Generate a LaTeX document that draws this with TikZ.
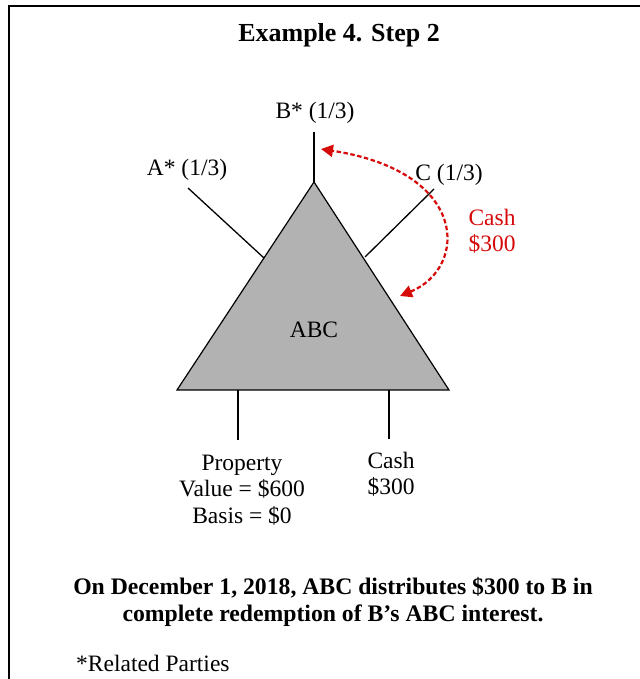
\documentclass[tikz,border=0pt]{standalone}
\usepackage{fontspec}
\setmainfont{Liberation Serif}
\usetikzlibrary{arrows.meta}
\definecolor{tri}{RGB}{178,178,178}
\definecolor{cashred}{RGB}{215,10,10}
\begin{document}
\begin{tikzpicture}[x=1pt,y=-1pt,
  lbl/.style={font=\fontsize{23.5}{26.5}\selectfont, inner sep=0pt, align=center},
  redlbl/.style={lbl, text=cashred},
  bold/.style={font=\fontsize{23.7}{26.5}\selectfont\bfseries, inner sep=0pt, align=center},
  leg/.style={draw=black, line width=1.3pt},
  move/.style={draw=cashred, line width=2.2pt, dash pattern=on 4.5pt off 2.5pt, {Triangle[length=12pt,width=12pt]}-{Triangle[length=12pt,width=12pt]}}]
\useasboundingbox (0,0) rectangle (639,679);
% frame
\draw[line width=2.5pt] (9,690) -- (9,6) -- (650,6);
% title
\node[font=\fontsize{26}{30}\selectfont\bfseries, inner sep=0pt] (title) at (339,35) {Example 4. Step 2};
% triangle
\coordinate (apex) at (314,182);
\coordinate (bl) at (177,390);
\coordinate (br) at (449,390);
\filldraw[fill=tri, draw=black, line width=1.2pt] (apex) -- (bl) -- (br) -- cycle;
\node[lbl] (abc) at (314,330) {ABC};
% partner legs
\coordinate (btop) at (314,132);
\coordinate (aend) at (188,188);
\coordinate (aleg) at (264,258);
\coordinate (cleg) at (365,257);
\coordinate (cend) at (434,189);
\draw[leg] (apex) -- (btop);
\draw[leg] (aleg) -- (aend);
\draw[leg] (cleg) -- (cend);
\node[lbl] (blab) at (315,113) {B* (1/3)};
\node[lbl] (alab) at (187,170) {A* (1/3)};
\node[lbl] (clab) at (449,175) {C (1/3)};
% asset legs
\coordinate (p1) at (238,390);
\coordinate (p2) at (238,440);
\coordinate (c1) at (389,390);
\coordinate (c2) at (389,439);
\draw[leg] (p1) -- (p2);
\draw[leg] (c1) -- (c2);
\node[lbl] (prop) at (242,490) {Property\\Value = \$600\\Basis = \$0};
\node[lbl] (cash) at (391,474) {Cash\\\$300};
% red arrow
\coordinate (arA) at (400,296);
\coordinate (arB) at (321,149);
\draw[move] (arA) .. controls (468,268) and (470,172) .. (arB);
\node[redlbl] (rcash) at (492,231) {Cash\\\$300};
% bottom text
\node[bold] (note) at (333,602) {On December 1, 2018, ABC distributes \$300 to B in\\complete redemption of B’s ABC interest.};
\node[lbl, anchor=west] (rel) at (76,663) {*Related Parties};
\end{tikzpicture}
\end{document}
